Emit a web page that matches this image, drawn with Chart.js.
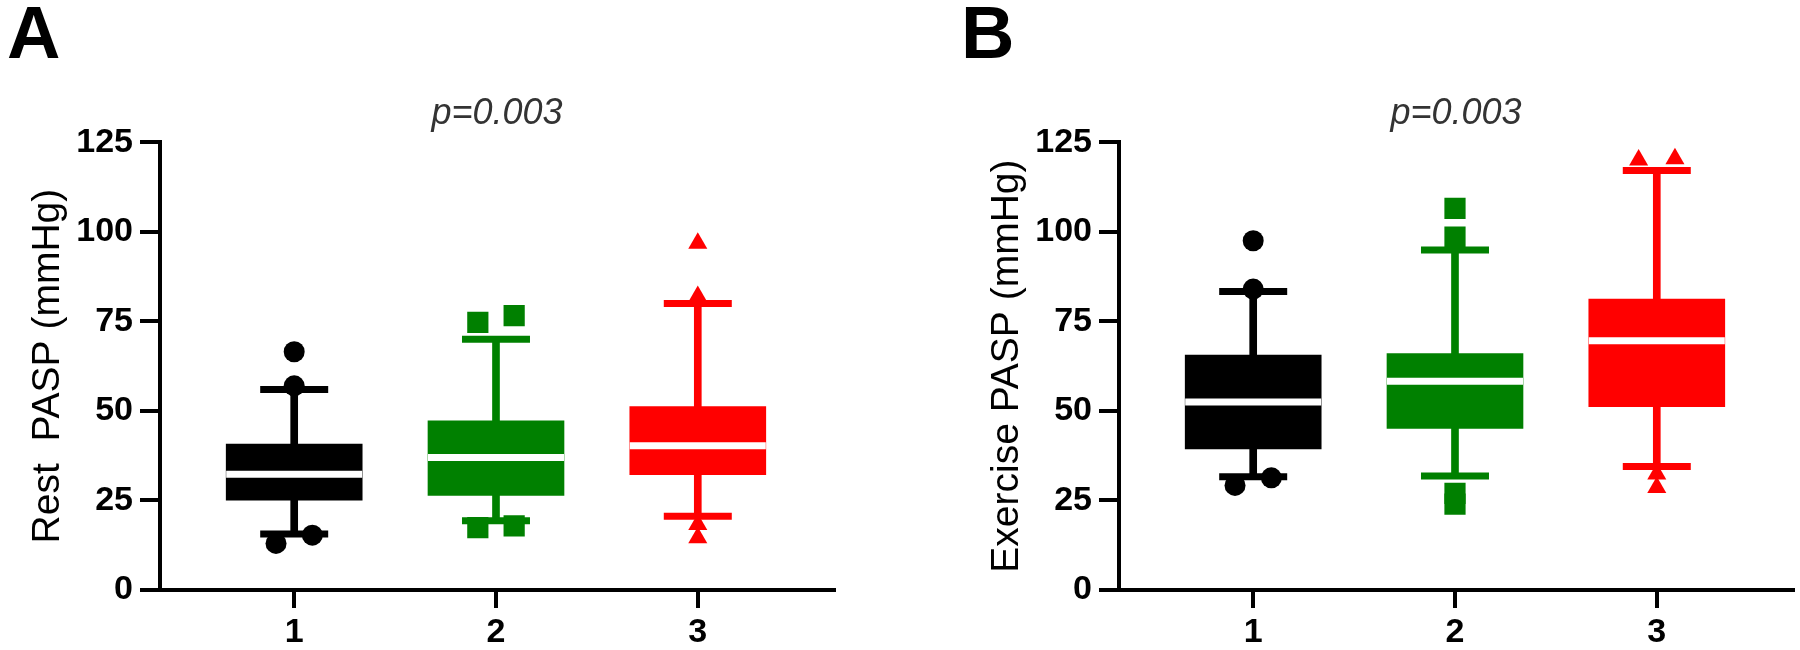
<!DOCTYPE html>
<html>
<head>
<meta charset="utf-8">
<script src="https://cdn.jsdelivr.net/npm/chart.js@4.4.0/dist/chart.umd.min.js"></script>
<style>
  html, body { margin: 0; padding: 0; background: #ffffff; }
  #wrap { position: relative; width: 1800px; height: 650px; overflow: hidden; background: #ffffff; }
  canvas { position: absolute; top: 0; }
  .panel { position: absolute; top: -4px; font-family: 'Liberation Sans', Arial, Helvetica, sans-serif;
           font-weight: bold; font-size: 74px; line-height: 74px; color: #000; }
</style>
</head>
<body>
<div id="wrap">
  <canvas id="chartA" width="841" height="650" style="left:0px"></canvas>
  <canvas id="chartB" width="841" height="650" style="left:959px"></canvas>
  <div class="panel" style="left:7px">A</div>
  <div class="panel" style="left:961px">B</div>
</div>
<script>
// ---------------- data ----------------
const categories = ['1', '2', '3'];
const yTickValues = [0, 25, 50, 75, 100, 125];

// Panel A: Rest PASP (mmHg)
const restWhiskerLow  = [15.6, 19.3, 20.6];
const restQ1          = [25.1, 26.4, 32.2];
const restMedian      = [32.3, 37.0, 40.3];
const restQ3          = [40.7, 47.2, 51.2];
const restWhiskerHigh = [56.0, 70.0, 80.0];
const restOutlierGroup = [1, 1, 1, 1, 2, 2, 2, 2, 3, 3, 3, 3];
const restOutlierValue = [66.5, 57.0, 13.0, 15.3, 74.7, 76.6, 17.4, 17.9, 96.8, 81.9, 18.3, 14.6];
const restOutlierSide  = [0, 0, -1, 1, -1, 1, -1, 1, 0, 0, 0, 0];

// Panel B: Exercise PASP (mmHg)
const exWhiskerLow  = [31.6, 31.8, 34.5];
const exQ1          = [39.4, 45.1, 51.2];
const exMedian      = [52.5, 58.3, 69.6];
const exQ3          = [65.6, 66.0, 81.2];
const exWhiskerHigh = [83.3, 94.9, 117.1];
const exOutlierGroup = [1, 1, 1, 1, 2, 2, 2, 2, 3, 3, 3, 3];
const exOutlierValue = [97.5, 84.0, 29.2, 31.3, 106.5, 98.5, 27.0, 24.0, 120.0, 120.4, 32.4, 28.6];
const exOutlierSide  = [0, 0, -1, 1, 0, 0, 0, 0, -1, 1, 0, 0];

// ---------------- styles ----------------
const FONT = "'Liberation Sans', Arial, Helvetica, sans-serif";
const groupColors = ['#000000', '#008000', '#ff0000'];
const markerStyles = ['circle', 'rect', 'triangle'];
const markerRadius = [10.5, 15, 11];
const JITTER = 0.09;

function makeChart(id, yTitle, pText, low, q1, med, q3, high, oGroup, oValue, oSide) {
  const xs = categories.map((c, i) => i + 1);
  const capData = [];
  const capColors = [];
  xs.forEach((x, i) => {
    capData.push({ x: x, y: high[i] }); capColors.push(groupColors[i]);
    capData.push({ x: x, y: low[i] });  capColors.push(groupColors[i]);
  });
  const datasets = [
    { type: 'scatter', label: 'outliers', order: 1,
      data: oValue.map((v, i) => ({ x: oGroup[i] + oSide[i] * JITTER, y: v })),
      pointStyle: oGroup.map(g => markerStyles[g - 1]),
      pointRadius: oGroup.map(g => markerRadius[g - 1]),
      pointBackgroundColor: oGroup.map(g => groupColors[g - 1]),
      pointBorderColor: oGroup.map(g => groupColors[g - 1]),
      pointBorderWidth: 0 },
    { type: 'scatter', label: 'median', order: 2,
      data: xs.map((x, i) => ({ x: x, y: med[i] })),
      pointStyle: 'line', pointRadius: 68, pointBorderWidth: 7,
      pointBorderColor: '#ffffff', pointBackgroundColor: '#ffffff' },
    { type: 'bar', label: 'box', order: 3,
      data: xs.map((x, i) => ({ x: x, y: [q1[i], q3[i]] })),
      backgroundColor: groupColors, borderWidth: 0, barThickness: 136, grouped: false },
    { type: 'scatter', label: 'caps', order: 4,
      data: capData,
      pointStyle: 'line', pointRadius: 34, pointBorderWidth: 7,
      pointBorderColor: capColors, pointBackgroundColor: capColors },
    { type: 'bar', label: 'whiskers', order: 5,
      data: xs.map((x, i) => ({ x: x, y: [low[i], high[i]] })),
      backgroundColor: groupColors, borderWidth: 0, barThickness: 7, grouped: false }
  ];

  return new Chart(document.getElementById(id), {
    type: 'bar',
    data: { datasets: datasets },
    options: {
      responsive: false, animation: false, events: [],
      layout: { autoPadding: false, padding: { left: 0, right: 7, top: 0, bottom: 0 } },
      plugins: {
        legend: { display: false }, tooltip: { enabled: false },
        title: { display: true, text: pText, fullSize: false, color: '#333333',
          font: { family: FONT, size: 36, style: 'italic', weight: 'normal' },
          padding: { top: 92, bottom: 7 } }
      },
      scales: {
        x: { type: 'linear', min: 0.335, max: 3.675, offset: false,
          afterBuildTicks: s => { s.ticks = categories.map((c, i) => ({ value: i + 1 })); },
          afterFit: s => { s.height = 60; },
          grid: { display: true, offset: false, drawOnChartArea: false, drawTicks: true, tickLength: 18, lineWidth: 4, color: '#000000' },
          border: { display: true, width: 4, color: '#000000' },
          ticks: { padding: 4, color: '#000000', autoSkip: false, maxRotation: 0,
            font: { family: FONT, size: 34, weight: 'bold' },
            callback: v => categories[Math.round(v) - 1] } },
        y: { type: 'linear', min: 0, max: 125,
          afterBuildTicks: s => { s.ticks = yTickValues.map(v => ({ value: v })); },
          afterFit: s => { s.width = 160; },
          grid: { display: true, drawOnChartArea: false, drawTicks: true, tickLength: 20, lineWidth: 4, color: '#000000' },
          border: { display: true, width: 4, color: '#000000' },
          ticks: { padding: 7, color: '#000000', font: { family: FONT, size: 34, weight: 'bold' }, callback: v => String(v) },
          title: { display: true, text: yTitle, color: '#000000',
            font: { family: FONT, size: 39, weight: 'normal' }, padding: { top: 25, bottom: 0 } } }
      }
    }
  });
}

makeChart('chartA', 'Rest  PASP (mmHg)', 'p=0.003',
  restWhiskerLow, restQ1, restMedian, restQ3, restWhiskerHigh,
  restOutlierGroup, restOutlierValue, restOutlierSide);
makeChart('chartB', 'Exercise PASP (mmHg)', 'p=0.003',
  exWhiskerLow, exQ1, exMedian, exQ3, exWhiskerHigh,
  exOutlierGroup, exOutlierValue, exOutlierSide);
</script>
</body>
</html>
